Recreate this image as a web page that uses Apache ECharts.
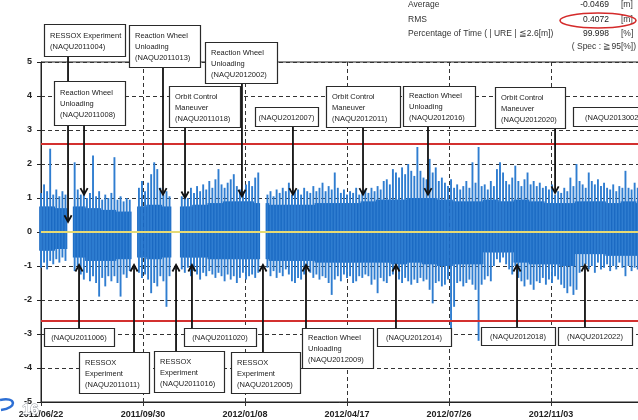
<!DOCTYPE html>
<html>
<head>
<meta charset="utf-8">
<script src="https://cdn.jsdelivr.net/npm/echarts@6/dist/echarts.min.js"></script>
<style>
  html, body { margin: 0; padding: 0; background: #fff; }
  #c { width: 638px; height: 420px; }
</style>
</head>
<body>
<div id="c"></div>
<script>
// URE time series, 2011/06/22 onward. One sample every 3 days: the extreme
// upper / lower value inside that bin (null = no data).
const dayStep = 3;
const dateTicks = ['2011/06/22', '2011/09/30', '2012/01/08', '2012/04/17', '2012/07/26', '2012/11/03'];

const upper = [
  1.15, 1.4, 1.2, 2.45, 1.1, 1.25, 1.05, 1.2, 1.1, null, null,
  2.05, 1.25, 1.1, 1.2, 1.0, 1.15, 2.25, 1.05, 1.2, 0.95, 1.1, 1.0, 1.15, 2.2, 0.95, 1.05, 0.9, 1.0, 0.95,
  null, null,
  1.3, 1.5, 1.2, 1.45, 1.7, 2.05, 1.85, 1.3, 1.1, 1.2, 1.05,
  null, null, null,
  1.05, 1.1, 1.0, 1.3, 1.15, 1.35, 1.2, 1.4, 1.25, 1.5, 1.3, 1.55, 1.85, 1.4, 1.3, 1.45, 1.55, 1.7, 1.35, 1.25,
  1.2, 1.4, 1.5, 1.35, 1.6, 1.75,
  null, null,
  1.1, 1.2, 1.05, 1.25, 1.15, 1.3, 1.2, 1.45, 1.1, 1.2,
  1.25, 1.1, 1.3, 1.2, 1.15, 1.35, 1.2, 1.3, 1.45, 1.2,
  1.35, 1.25, 1.75, 1.3, 1.15, 1.25, 1.1, 1.2, 1.15, 1.3,
  1.1, 1.2, 1.25, 1.15, 1.3, 1.2, 1.35, 1.25, 1.5, 1.55,
  1.4, 1.85, 1.75, 1.6, 1.9, 1.7, 2.0, 1.8, 1.65, 2.5,
  1.8, 1.6, 1.55, 2.15, 1.75, 1.9, 1.5, 1.6, 1.45, 1.35,
  1.55, 1.3, 1.4, 1.25, 1.35, 1.5, 1.3, 2.05, 1.45, 2.5,
  1.35, 1.4, 1.25, 1.5, 1.35, 1.85, 2.05, 1.75, 1.5, 1.4,
  1.6, 1.95, 1.5, 1.35, 1.55, 1.75, 1.4, 1.5, 1.35, 1.45,
  1.3, 1.35, 1.25, 1.4, 1.1, 1.2, 1.15, 1.3, 1.2, 1.6,
  1.35, 2.0, 1.5, 1.4, 1.3, 1.75, 1.5, 1.4, 1.55, 1.35,
  1.45, 1.3, 1.25, 1.4, 1.2, 1.35, 1.3, 1.8, 1.3, 1.25,
  1.45, 1.3
];

const lower = [
  -1.05, -0.9, -1.1, -0.85, -0.95, -0.8, -0.9, -0.75, -0.85, null, null,
  -1.15, -1.0, -1.25, -1.4, -1.2, -1.45, -1.3, -1.5, -1.9, -1.35, -1.6, -1.3, -1.45, -1.3, -1.5, -1.9, -1.25, -1.35, -1.15,
  null, null,
  -1.2, -1.35, -1.25, -1.4, -1.8, -1.5, -1.6, -1.3, -1.45, -2.2, -1.3,
  null, null, null,
  -1.1, -1.2, -1.05, -1.3, -1.15, -1.25, -1.4, -1.2, -1.3, -1.15, -1.25, -1.35, -1.2, -1.3, -1.45, -1.25,
  -1.4, -1.3, -1.5, -1.35, -1.2, -1.4, -1.3, -1.25, -1.35, -1.2,
  null, null,
  -1.05, -1.3, -1.15, -1.35, -1.2, -1.3, -1.1, -1.25, -1.45, -1.5,
  -1.35, -1.4, -1.25, -1.0, -1.2, -1.35, -1.25, -1.4, -1.3, -1.35,
  -1.5, -1.85, -1.4, -1.3, -1.45, -1.25, -1.35, -1.3, -1.5, -1.45,
  -1.3, -1.35, -1.25, -1.3, -1.55, -1.4, -1.8, -1.35, -1.45, -1.5,
  -1.3, -1.25, -1.0, -1.4, -1.5, -1.35, -1.45, -1.55, -1.4, -1.5,
  -1.35, -1.45, -1.4, -1.7, -2.1, -1.5, -1.45, -1.6, -1.55, -1.4,
  -3.2, -2.2, -1.5, -1.45, -1.6, -1.5, -1.4, -1.55, -1.7, -3.2,
  -1.55, -1.4, -1.3, -1.45, -1.0, -0.8, -0.9, -0.75, -0.95, -1.1,
  -1.25, -1.0, -1.35, -1.45, -1.6, -1.4, -1.55, -1.7, -1.45, -1.5,
  -1.35, -1.55, -1.4, -1.5, -1.3, -1.4, -1.55, -1.65, -1.8, -1.6,
  -1.85, -1.7, -1.2, -1.0, -0.95, -1.1, -1.0, -1.2, -0.9, -1.1,
  -1.05, -0.95, -1.15, -1.0, -1.1, -0.9, -1.05, -1.3, -1.0, -1.15,
  -1.05, -1.1
];

// Dense band of the trace, one level per 15-day span.
const coreSpan = 15;
const coreHigh = [
  0.75, 0.7, 0.75, 0.7, 0.65, 0.6, 0.75, 0.8, 0.75, 0.75,
  0.8, 0.85, 0.9, 0.9, 0.85, 0.8, 0.8, 0.8, 0.85, 0.85,
  0.85, 0.9, 0.95, 0.95, 1.0, 1.0, 0.95, 0.9, 0.9, 0.95,
  0.9, 0.95, 0.9, 0.85, 0.85, 0.9, 0.9, 0.85, 0.9, 0.85
];
const coreLow = [
  -0.55, -0.5, -0.75, -0.85, -0.85, -0.8, -0.75, -0.8, -0.75, -0.75,
  -0.75, -0.8, -0.8, -0.8, -0.8, -0.85, -0.85, -0.85, -0.9, -0.9,
  -0.9, -0.9, -0.9, -0.95, -0.9, -0.95, -1.0, -0.95, -0.95, -0.6,
  -0.6, -0.9, -0.95, -0.95, -1.0, -0.65, -0.65, -0.7, -0.7, -0.7
];

const limitURE = 2.6;

// Operational events (days after 2011/06/22)
const topEventDays = [26.5, 42.2, 119.6, 141.2, 197, 247, 315.7, 379.4, 504, 598];
const topEventNames = [
  'RESSOX Experiment\n(NAQU2011004)',
  'Reaction Wheel\nUnloading\n(NAQU2011008)',
  'Reaction Wheel\nUnloading\n(NAQU2011013)',
  'Orbit Control\nManeuver\n(NAQU2011018)',
  'Reaction Wheel\nUnloading\n(NAQU2012002)',
  '(NAQU2012007)',
  'Orbit Control\nManeuver\n(NAQU2012011)',
  'Reaction Wheel\nUnloading\n(NAQU2012016)',
  'Orbit Control\nManeuver\n(NAQU2012020)',
  '(NAQU2013002)'
];
const bottomEventDays = [37.3, 91.2, 132.4, 148, 217.6, 259.8, 348, 466.7, 533.3];
const bottomEventNames = [
  '(NAQU2011006)',
  'RESSOX\nExperiment\n(NAQU2011011)',
  'RESSOX\nExperiment\n(NAQU2011016)',
  '(NAQU2011020)',
  'RESSOX\nExperiment\n(NAQU2012005)',
  'Reaction Wheel\nUnloading\n(NAQU2012009)',
  '(NAQU2012014)',
  '(NAQU2012018)',
  '(NAQU2012022)'
];

// Summary statistics
const statLabels = ['Average', 'RMS', 'Percentage of Time ( | URE | \u22662.6[m])'];
const statValues = ['-0.0469', '0.4072', '99.998'];
const statUnits = ['[m]', '[m]', '[%]'];
const specText = '( Spec : \u226795[%])';

// ---- layout (pixels) ----
const topBoxes = [
  [44, 24, 81, 32], [54, 81, 71, 44], [129, 25, 71, 42], [169, 86, 71, 41], [205, 42, 72, 41],
  [255, 107, 63, 19], [326, 86, 74, 41], [403, 86, 72, 40], [495, 87, 70, 41], [573, 107, 80, 19]
];
const topTipLevels = [0.3, 1.1, 1.1, 1.0, 1.05, 1.1, 1.1, 1.1, 1.15, 1.1];
const bottomBoxes = [
  [44, 328, 70, 18], [79, 352, 70, 41], [154, 351, 70, 41], [184, 328, 72, 18], [231, 352, 69, 41],
  [302, 328, 71, 40], [377, 328, 74, 18], [481, 327, 74, 18], [558, 327, 74, 18]
];
const bottomTipLevel = -0.97;

const coreColor = '#1a69c2';
const spikeColor = '#2f7dd0';
const FONT = '"Liberation Sans", Arial, sans-serif';

const traceRows = [];
upper.forEach((hi, i) => {
  if (hi === null) return;
  const d = i * dayStep;
  const seg = Math.min(Math.floor(d / coreSpan), coreHigh.length - 1);
  traceRows.push([d, hi, lower[i], coreHigh[seg], coreLow[seg]]);
});

function renderTrace(params, api) {
  const d = api.value(0);
  const w = api.size([dayStep, 0])[0];
  const pHi = api.coord([d, api.value(1)]);
  const pLo = api.coord([d, api.value(2)]);
  const pCh = api.coord([d, api.value(3)]);
  const pCl = api.coord([d, api.value(4)]);
  return {
    type: 'group',
    children: [
      { type: 'rect', shape: { x: pCh[0] - w / 2 - 0.3, y: pCh[1], width: w + 0.6, height: pCl[1] - pCh[1] },
        style: { fill: coreColor } },
      { type: 'line', shape: { x1: pHi[0], y1: pHi[1], x2: pLo[0], y2: pLo[1] },
        style: { stroke: spikeColor, lineWidth: 1.9 } }
    ]
  };
}

const chart = echarts.init(document.getElementById('c'), null, { renderer: 'canvas' });

const axisText = { color: '#222', fontWeight: 'bold', fontSize: 9, fontFamily: FONT };
const dashed = { show: true, lineStyle: { color: '#333', width: 1, type: [4, 3] } };

chart.setOption({
  animation: false,
  backgroundColor: '#fff',
  grid: {
    left: 41, top: 62, width: 612, height: 340,
    containLabel: false, outerBoundsMode: 'none',
    show: true, borderColor: '#222', borderWidth: 1, backgroundColor: 'transparent'
  },
  xAxis: {
    type: 'value', min: 0, max: 600, interval: 100,
    axisLine: { show: true, onZero: false, lineStyle: { color: '#222', width: 1 } },
    axisTick: { show: true, length: 4, lineStyle: { color: '#333' } },
    axisLabel: Object.assign({ margin: 8, formatter: v => dateTicks[Math.round(v / 100)] || '' }, axisText),
    splitLine: dashed
  },
  yAxis: {
    type: 'value', min: -5, max: 5, interval: 1,
    axisLine: { show: true, lineStyle: { color: '#222', width: 1 } },
    axisTick: { show: true, length: 4, lineStyle: { color: '#222' } },
    axisLabel: Object.assign({ margin: 9 }, axisText),
    splitLine: dashed
  },
  series: [
    { type: 'custom', name: 'URE', renderItem: renderTrace, data: traceRows, encode: { x: 0, y: [1, 2] }, z: 2, silent: true },
    { type: 'line', data: [], z: 3, silent: true,
      markLine: { silent: true, symbol: 'none', label: { show: false },
        lineStyle: { color: '#d3302f', width: 2.2, type: 'solid' },
        data: [{ yAxis: limitURE }, { yAxis: -limitURE }] } },
    { type: 'line', data: [], z: 4, silent: true,
      markLine: { silent: true, symbol: 'none', label: { show: false },
        lineStyle: { color: '#e6da74', width: 2, type: 'solid' },
        data: [{ yAxis: 0 }] } }
  ]
});

// ---- annotations ----
function arrowEl(x, y0, y1) {
  const dir = y1 > y0 ? 1 : -1;
  return [
    { type: 'line', z: 50, shape: { x1: x, y1: y0, x2: x, y2: y1 - dir * 1 },
      style: { stroke: '#111', lineWidth: 1.8 } },
    { type: 'polyline', z: 50, shape: { points: [[x - 3.6, y1 - dir * 6.5], [x, y1], [x + 3.6, y1 - dir * 6.5]] },
      style: { stroke: '#111', lineWidth: 1.8, fill: null } }
  ];
}
function boxEl(b, label) {
  const multi = label.indexOf('\n') >= 0;
  const align = multi ? 'left' : 'center';
  return [
    { type: 'rect', z: 60, shape: { x: b[0] + 0.5, y: b[1] + 0.5, width: b[2], height: b[3] },
      style: { fill: '#fff', stroke: '#2a2a2a', lineWidth: 1.2 } },
    { type: 'text', z: 61, x: multi ? b[0] + 6 : b[0] + b[2] / 2, y: b[1] + b[3] / 2 + 1,
      style: { text: label, font: '7.5px ' + FONT, fill: '#222', lineHeight: 11,
        align: align, textAlign: align, verticalAlign: 'middle', textVerticalAlign: 'middle' } }
  ];
}
function textEl(x, y, s, align, size, color) {
  return { type: 'text', z: 70, x: x, y: y,
    style: { text: s, font: size + 'px ' + FONT, fill: color || '#222',
      align: align, textAlign: align, verticalAlign: 'middle', textVerticalAlign: 'middle' } };
}

const toPx = (d, v) => chart.convertToPixel({ gridIndex: 0 }, [d, v]);
const arrows = [], boxes = [];
topEventDays.forEach((d, k) => {
  const b = topBoxes[k];
  const tip = toPx(d, topTipLevels[k]);
  arrows.push(...arrowEl(tip[0], b[1] + b[3], tip[1]));
  boxes.push(...boxEl(b, topEventNames[k]));
});
bottomEventDays.forEach((d, k) => {
  const b = bottomBoxes[k];
  const tip = toPx(d, bottomTipLevel);
  arrows.push(...arrowEl(tip[0], b[1], tip[1]));
  boxes.push(...boxEl(b, bottomEventNames[k]));
});

const stats = [];
const statRows = [5, 20, 34];
statLabels.forEach((s, k) => {
  stats.push(textEl(408, statRows[k], s, 'left', 8.5, '#333'));
  stats.push(textEl(609, statRows[k], statValues[k], 'right', 8.5, '#222'));
  stats.push(textEl(621, statRows[k], statUnits[k], 'left', 8.5, '#333'));
});
stats.push(textEl(636, 47, specText, 'right', 8.5, '#333'));
stats.push({ type: 'ellipse', z: 72, shape: { cx: 598, cy: 20.5, rx: 38, ry: 7.5 },
  style: { fill: null, stroke: '#d42a2a', lineWidth: 1.6 } });

// page number mark at the lower-left corner
stats.push({ type: 'text', z: 1, x: 22, y: 410,
  style: { text: '16', font: 'bold 15px ' + FONT, fill: '#fff', stroke: '#8a8f99', lineWidth: 0.8,
    align: 'left', textAlign: 'left', verticalAlign: 'middle', textVerticalAlign: 'middle' } });
stats.push({ type: 'bezierCurve', z: 1,
  shape: { x1: 0, y1: 400, cpx1: 16, cpy1: 396, cpx2: 18, cpy2: 408, x2: 1, y2: 410 },
  style: { stroke: '#2d6fd4', lineWidth: 2.5, fill: null } });

chart.setOption({ graphic: { elements: arrows.concat(boxes, stats) } });
</script>
</body>
</html>
